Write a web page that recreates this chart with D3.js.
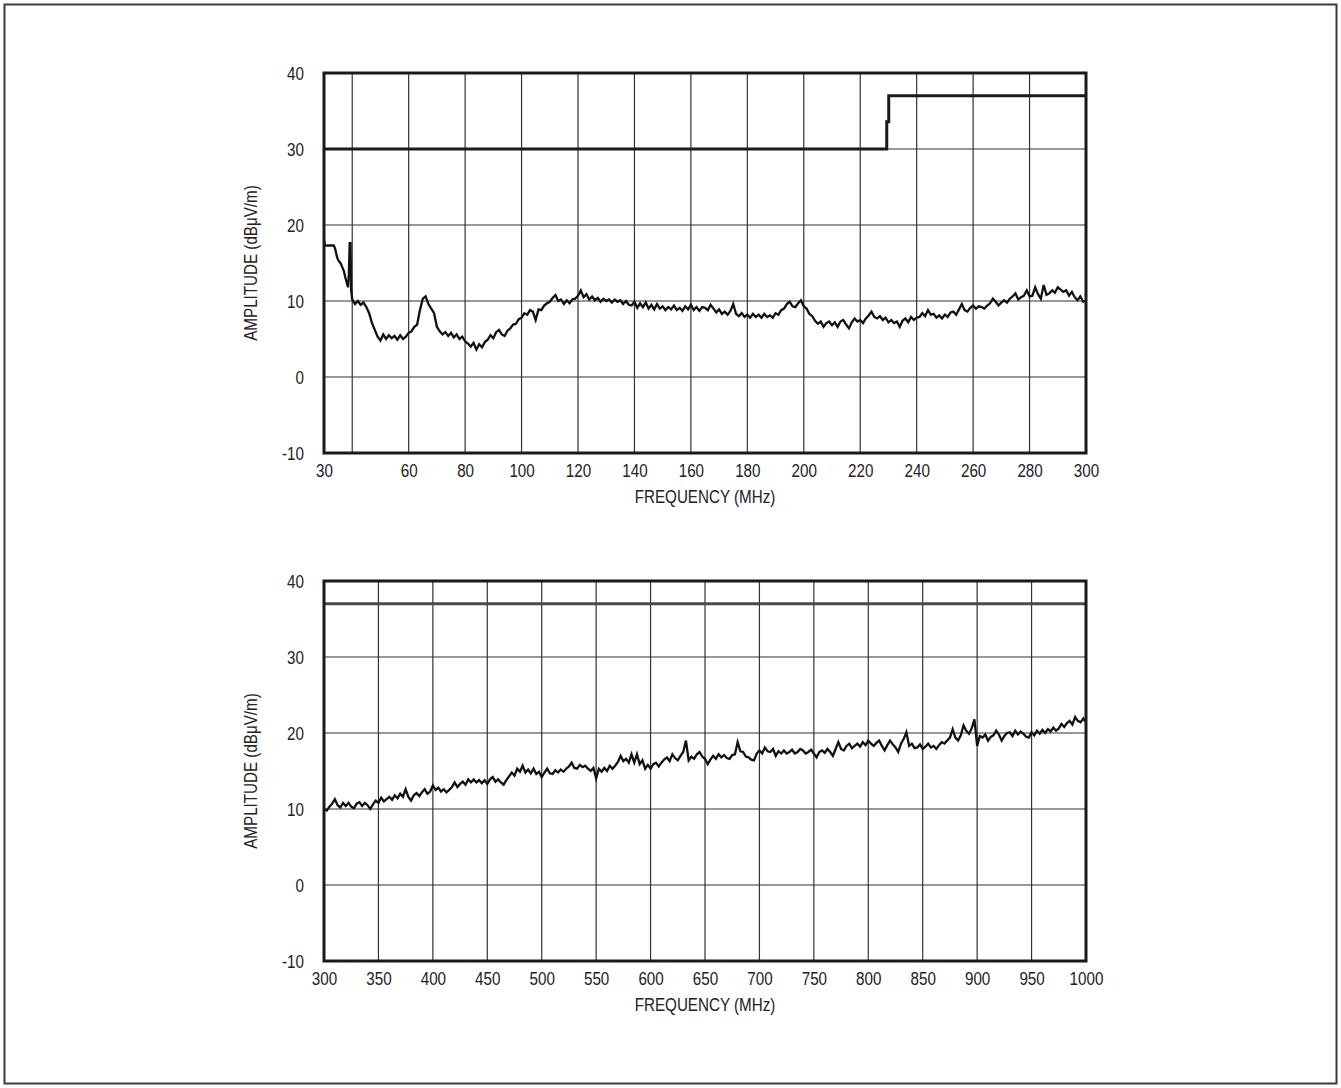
<!DOCTYPE html>
<html>
<head>
<meta charset="utf-8">
<script src="https://cdn.jsdelivr.net/npm/d3@7"></script>
<style>
  body { margin: 0; background: #fff; }
  svg text { font-family: "Liberation Sans", Arial, Helvetica, sans-serif; fill: #222; }
</style>
</head>
<body>
<script>
// amplitude axis, shared by both panels
const ampTicks = [-10, 0, 10, 20, 30, 40];

// top panel: 30 MHz to 300 MHz
const topTickLabels = [30, 60, 80, 100, 120, 140, 160, 180, 200, 220, 240, 260, 280, 300];
const topGridFreqs = [40, 60, 80, 100, 120, 140, 160, 180, 200, 220, 240, 260, 280];
const topLimitFreq = [30, 229.4, 229.4, 230.1, 230.1, 300];
const topLimitAmp = [30, 30, 33.6, 33.6, 37, 37];
// start of sweep (irregular part)
const topStartFreq = [30, 30.4, 33.5, 34, 34.6, 35, 36, 36.5, 37, 37.5, 38, 38.5, 38.8, 39.1, 39.4, 39.6, 40];
const topStartAmp = [18.0, 17.3, 17.3, 16.8, 15.8, 15.4, 14.9, 14.4, 14.0, 13.2, 12.5, 11.8, 13.5, 17.6, 17.6, 11.5, 10.2];
// 41 MHz .. 300 MHz, 1 MHz per point
const topSweepStart = 41, topSweepStep = 1;
const topSweepAmp = [
  9.6, 10.0, 9.5, 9.8, 9.2, 8.4, 7.1, 6.2, 5.3, 4.8,
  5.6, 5.0, 5.5, 5.1, 5.4, 4.9, 5.5, 5.0, 5.3, 5.8,
  6.0, 6.6, 6.9, 8.8, 10.3, 10.6, 9.6, 9.0, 8.4, 6.6,
  6.0, 5.6, 5.9, 5.4, 5.8, 5.2, 5.6, 5.0, 5.3, 4.7,
  4.4, 4.0, 4.5, 3.6, 4.3, 3.9, 4.6, 4.9, 5.5, 5.1,
  5.9, 6.2, 5.6, 5.4, 6.1, 6.4, 6.9, 7.0, 7.6, 7.8,
  8.4, 8.2, 8.8, 8.6, 7.5, 8.9, 8.8, 9.4, 9.7, 9.9,
  10.4, 10.8, 10.0, 10.2, 9.6, 10.1, 9.7, 10.2, 10.3, 10.7,
  11.4, 10.5, 10.9, 10.2, 10.6, 10.1, 10.4, 9.9, 10.3, 10.0,
  10.2, 9.8, 10.2, 9.9, 10.1, 9.6, 10.0, 9.5, 9.4, 9.9,
  9.1, 9.7, 9.2, 9.8, 9.0, 9.5, 8.9, 9.6, 9.0, 9.3,
  8.8, 9.2, 8.9, 9.4, 8.8, 9.1, 8.7, 9.3, 8.9, 9.5,
  8.8, 9.2, 8.7, 9.2, 9.1, 8.8, 9.5, 9.0, 8.5, 8.9,
  8.3, 8.6, 8.2, 8.7, 9.6, 8.3, 8.0, 8.4, 7.9, 8.2,
  7.8, 8.3, 7.9, 8.2, 7.8, 8.3, 7.9, 8.1, 7.8, 8.4,
  8.2, 8.8, 9.0, 9.6, 9.9, 9.3, 9.2, 9.7, 10.1, 9.3,
  9.0, 8.3, 8.0, 7.4, 7.0, 7.3, 6.6, 7.1, 7.3, 6.8,
  7.2, 6.6, 7.3, 7.5, 6.9, 6.4, 7.2, 7.7, 7.3, 7.5,
  7.1, 7.7, 8.1, 8.6, 7.9, 7.7, 8.0, 7.5, 7.8, 7.2,
  7.5, 7.1, 7.3, 6.6, 7.4, 7.7, 7.2, 7.9, 7.5, 7.8,
  7.9, 8.4, 8.0, 8.8, 8.2, 8.3, 7.8, 8.1, 7.7, 8.2,
  7.9, 8.5, 8.6, 8.2, 8.9, 9.6, 8.8, 8.6, 9.1, 9.4,
  9.0, 9.3, 9.2, 9.0, 9.4, 9.7, 10.3, 9.9, 9.4, 9.8,
  10.1, 9.8, 10.3, 10.6, 11.0, 10.2, 10.5, 10.7, 11.4, 10.6,
  10.7, 11.8, 10.9, 10.3, 12.1, 10.8, 11.0, 11.4, 11.1, 11.8,
  11.5, 11.2, 11.4, 10.7, 11.2, 10.5, 10.1, 10.6, 9.9, 10.0
];

// bottom panel: 300 MHz to 1000 MHz
const bottomTicks = [300, 350, 400, 450, 500, 550, 600, 650, 700, 750, 800, 850, 900, 950, 1000];
const bottomLimitFreq = [300, 1000];
const bottomLimitAmp = [37, 37];
// 300 MHz .. 1000 MHz, 2.5 MHz per point
const bottomSweepStart = 300, bottomSweepStep = 2.5;
const bottomSweepAmp = [
  10.0, 9.8, 10.3, 10.7, 11.3, 10.5, 10.2, 10.8, 10.4, 10.8, 10.3, 10.1, 10.7, 10.9, 10.4, 10.8, 10.5, 10.0, 10.6, 11.1,
  10.8, 11.5, 11.0, 11.3, 11.6, 11.2, 11.8, 11.4, 12.0, 11.6, 12.6, 11.6, 11.1, 11.8, 12.1, 11.7, 12.2, 12.6, 12.0, 12.3,
  13.1, 12.5, 12.8, 12.3, 12.6, 12.2, 12.5, 12.9, 13.5, 12.9, 13.3, 13.6, 13.2, 13.9, 13.5, 13.9, 13.5, 13.8, 13.4, 13.8,
  13.3, 13.9, 14.2, 13.6, 13.9, 13.5, 13.2, 13.8, 14.3, 14.8, 14.4, 15.3, 14.9, 15.7, 14.8, 15.2, 14.7, 15.3, 14.6, 14.9,
  14.2, 14.8, 15.3, 14.7, 14.6, 15.1, 14.8, 15.2, 14.9, 15.3, 15.6, 16.1, 15.4, 15.3, 15.8, 15.5, 15.7, 15.3, 15.0, 15.4,
  14.0, 15.3, 14.9, 15.4, 15.0, 15.7, 15.3, 15.7, 16.2, 17.0, 16.3, 16.6, 16.1, 17.2, 16.1, 17.2, 15.9, 16.4, 15.3, 15.8,
  15.3, 15.9, 16.1, 15.6, 16.1, 16.5, 16.8, 16.3, 17.2, 16.7, 16.4, 17.0, 17.5, 19.0, 16.4, 16.9, 16.6, 17.2, 17.5, 16.9,
  16.6, 15.9, 16.5, 17.0, 16.6, 17.2, 16.8, 17.1, 16.7, 16.6, 17.1, 17.2, 18.8, 17.6, 17.5, 16.9, 16.8, 16.5, 16.4, 17.3,
  17.7, 17.3, 18.1, 17.6, 17.5, 17.9, 17.0, 17.6, 17.3, 17.7, 17.3, 17.5, 17.8, 17.3, 17.5, 17.9, 17.7, 17.3, 17.5, 17.8,
  17.3, 16.8, 17.5, 17.7, 17.4, 17.9, 17.5, 17.0, 17.9, 18.8, 17.9, 17.7, 18.3, 18.6, 18.0, 18.3, 18.6, 18.2, 18.8, 18.4,
  19.0, 18.6, 18.3, 18.7, 19.0, 18.3, 17.7, 18.4, 19.0, 18.5, 18.1, 17.5, 18.6, 19.2, 20.1, 18.3, 18.6, 18.0, 18.1, 18.5,
  17.9, 18.2, 18.6, 18.1, 18.3, 17.9, 18.4, 18.8, 18.6, 19.0, 19.4, 20.5, 19.4, 19.0, 19.7, 21.0, 20.3, 19.9, 20.6, 21.8,
  18.3, 19.6, 19.4, 19.8, 19.0, 19.5, 19.7, 20.3, 19.8, 19.0, 19.6, 20.0, 20.1, 19.6, 20.3, 19.8, 20.2, 19.9, 19.5, 19.4,
  20.1, 19.7, 20.3, 19.9, 20.4, 20.0, 20.5, 20.2, 20.7, 20.3, 20.6, 21.2, 20.8, 21.3, 21.6, 21.1, 22.1, 21.6, 21.4, 21.9,
  21.4
];

const W = 1341, H = 1088;
const plotLeft = 324, plotRight = 1086;
const squeeze = 0.8;   // condensed look for the Helvetica-like lettering
const fontSize = 19;

const svg = d3.select("body").append("svg")
  .attr("width", W)
  .attr("height", H);

// outer frame
svg.append("rect")
  .attr("x", 4.5).attr("y", 4.5)
  .attr("width", W - 9).attr("height", H - 9)
  .attr("fill", "none")
  .attr("stroke", "#3a3a3a")
  .attr("stroke-width", 2);

function drawPanel(p) {
  const x = d3.scaleLinear().domain(p.xDomain).range([plotLeft, plotRight]);
  const y = d3.scaleLinear().domain([-10, 40]).range([p.bottom, p.top]);
  const g = svg.append("g");

  // grid
  g.append("g").selectAll("line.v")
    .data(p.grid)
    .join("line")
    .attr("x1", d => x(d)).attr("x2", d => x(d))
    .attr("y1", p.top).attr("y2", p.bottom)
    .attr("stroke", "#333").attr("stroke-width", 1.2);
  g.append("g").selectAll("line.h")
    .data(ampTicks.slice(1, -1))
    .join("line")
    .attr("x1", plotLeft).attr("x2", plotRight)
    .attr("y1", d => y(d)).attr("y2", d => y(d))
    .attr("stroke", "#333").attr("stroke-width", 1.2);

  // axes (labels only)
  const xAxis = g.append("g")
    .attr("transform", `translate(0,${p.bottom})`)
    .call(d3.axisBottom(x).tickValues(p.ticks).tickSize(0).tickPadding(11).tickFormat(d => String(d)));
  const yAxis = g.append("g")
    .attr("transform", `translate(${plotLeft},0)`)
    .call(d3.axisLeft(y).tickValues(ampTicks).tickSize(0).tickPadding(20 / squeeze).tickFormat(d => String(d)));
  [xAxis, yAxis].forEach(a => {
    a.attr("font-family", null).attr("font-size", null);
    a.select(".domain").remove();
    a.selectAll("text")
      .attr("font-size", fontSize)
      .attr("fill", "#222")
      .attr("transform", `scale(${squeeze},1)`);
  });

  // limit line
  const limit = p.limitFreq.map((f, i) => [f, p.limitAmp[i]]);
  g.append("path")
    .datum(limit)
    .attr("fill", "none")
    .attr("stroke", p.limitColor)
    .attr("stroke-width", 3)
    .attr("d", d3.line().x(d => x(d[0])).y(d => y(d[1])));

  // measured trace
  g.append("path")
    .datum(p.trace)
    .attr("fill", "none")
    .attr("stroke", "#111")
    .attr("stroke-width", 2.3)
    .attr("d", d3.line().x(d => x(d[0])).y(d => y(d[1])));

  // plot frame
  g.append("rect")
    .attr("x", plotLeft).attr("y", p.top)
    .attr("width", plotRight - plotLeft).attr("height", p.bottom - p.top)
    .attr("fill", "none").attr("stroke", "#1a1a1a").attr("stroke-width", 3);

  // axis titles
  g.append("text")
    .attr("transform", `translate(${(plotLeft + plotRight) / 2},${p.bottom + 50}) scale(${squeeze},1)`)
    .attr("text-anchor", "middle")
    .attr("font-size", fontSize)
    .text("FREQUENCY (MHz)");
  g.append("text")
    .attr("transform", `translate(257,${(p.top + p.bottom) / 2}) rotate(-90) scale(${squeeze},1)`)
    .attr("text-anchor", "middle")
    .attr("font-size", fontSize)
    .text("AMPLITUDE (dBμV/m)");
}

const topTrace = topStartFreq.map((f, i) => [f, topStartAmp[i]])
  .concat(topSweepAmp.map((v, i) => [topSweepStart + i * topSweepStep, v]));
const bottomTrace = bottomSweepAmp.map((v, i) => [bottomSweepStart + i * bottomSweepStep, v]);

drawPanel({
  top: 73, bottom: 453,
  xDomain: [30, 300],
  ticks: topTickLabels, grid: topGridFreqs,
  limitFreq: topLimitFreq, limitAmp: topLimitAmp, limitColor: "#1a1a1a",
  trace: topTrace
});

drawPanel({
  top: 581, bottom: 961,
  xDomain: [300, 1000],
  ticks: bottomTicks, grid: bottomTicks.slice(1, -1),
  limitFreq: bottomLimitFreq, limitAmp: bottomLimitAmp, limitColor: "#4a4a4a",
  trace: bottomTrace
});
</script>
</body>
</html>
